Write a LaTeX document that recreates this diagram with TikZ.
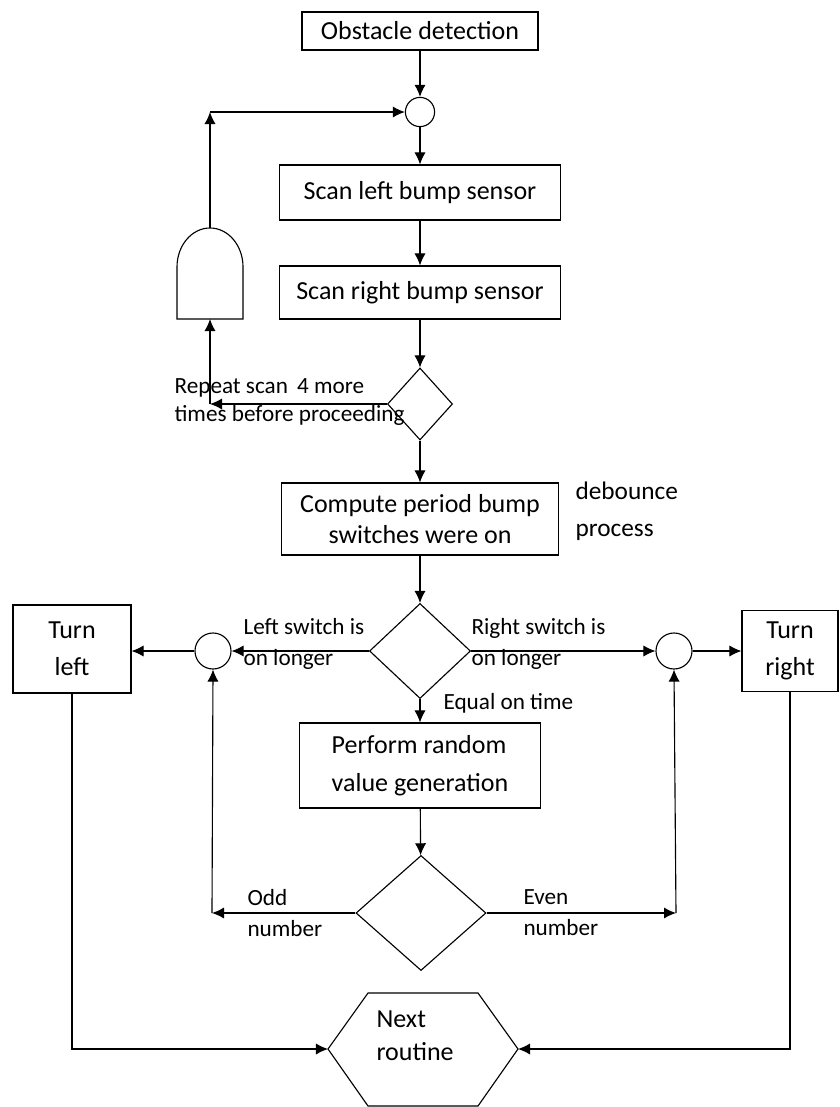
\documentclass[tikz,border=0pt]{standalone}
\usepackage{fontspec}
\setmainfont{Carlito}
\usetikzlibrary{arrows.meta,shapes.geometric,positioning}

\begin{document}
\begin{tikzpicture}[x=0.025cm,y=-0.025cm,line width=0.8pt,
        >={Latex[length=3mm,width=2.8mm]},
        box/.style={draw,inner sep=0pt,align=center,font=\fontsize{18.5}{22}\selectfont},
        junc/.style={draw,circle,minimum size=0.9cm,inner sep=0pt},
        decide/.style={draw,diamond,inner sep=0pt},
        lbl/.style={anchor=west,inner sep=0pt,align=left,font=\fontsize{16.5}{22}\selectfont}]
        \useasboundingbox (0,0) rectangle (840,1107);
        
        %方塊
        \node [box,minimum width=5.9cm,minimum height=0.95cm] (obst) at (420,31) {Obstacle detection};
        \node [junc,minimum size=0.73cm] (junctop) at (420,112) {};
        \node [box,minimum width=7.025cm,minimum height=1.375cm] (scanl) at (420,192.5) {Scan left bump sensor};
        \node [box,minimum width=7.025cm,minimum height=1.325cm] (scanr) at (420,292.5) {Scan right bump sensor};
        \node [decide,minimum width=1.625cm,minimum height=1.8cm] (chk) at (420,404) {};
        \node [box,minimum width=6.925cm,minimum height=1.8cm] (compute) at (420,519) {Compute period bump\\switches were on};
        \node [decide,minimum width=2.525cm,minimum height=2.375cm] (cmp) at (420,651) {};
        \node [junc] (junl) at (213,651) {};
        \node [junc] (junr) at (674,651) {};
        \node [box,minimum width=2.95cm,minimum height=2.2cm,font=\fontsize{18.5}{26}\selectfont] (turnl) at (72,649) {Turn\\left};
        \node [box,minimum width=2.4cm,minimum height=2.025cm,font=\fontsize{18.5}{26}\selectfont] (turnr) at (790,651) {Turn\\right};
        \node [box,minimum width=6.025cm,minimum height=2.125cm,align=left,font=\fontsize{18.5}{27}\selectfont] (perform) at (420,765.5) {Perform random\\value generation};
        \node [decide,minimum width=3.25cm,minimum height=2.875cm] (par) at (421,913) {};
        
        %AND 閘與六角形
        \draw (177,319) -- (177,267) arc [start angle=180,end angle=0,x radius=0.825cm,y radius=0.975cm] -- (243,319) -- cycle;
        \coordinate (gtop) at (210,228);
        \coordinate (gbot) at (210,319);
        \draw (328,1049) -- (368,993) -- (478,993) -- (518,1049) -- (478,1106) -- (368,1106) -- cycle;
        \coordinate (hexw) at (328,1049);
        \coordinate (hexe) at (518,1049);
        \node [lbl,font=\fontsize{18.5}{23.5}\selectfont] (next) at (376,1036) {Next\\routine};
        
        %文字
        \node [lbl,font=\fontsize{16.5}{20}\selectfont] (repeat) at (174,402) {Repeat scan\ \,4 more\\times before proceeding};
        \node [lbl,font=\fontsize{18}{26}\selectfont] (debounce) at (575,511) {debounce\\process};
        \node [lbl] (leftlong) at (243,644) {Left switch is\\on longer};
        \node [lbl] (rightlong) at (471,644) {Right switch is\\on longer};
        \node [lbl] (equal) at (443,703) {Equal on time};
        \node [lbl] (odd) at (247,913) {Odd\\number};
        \node [lbl] (even) at (523,913) {Even\\number};
        
        %箭頭
        \coordinate (loopc) at (210,112);
        \coordinate (rptc) at (210,404);
        \coordinate (oddc) at (212,913);
        \coordinate (evenc) at (676,913);
        \draw [->] (obst) -- (junctop);
        \draw [->] (junctop) -- (scanl);
        \draw [->] (scanl) -- (scanr);
        \draw [->] (scanr) -- (chk);
        \draw [->] (chk.west) -- (rptc);
        \draw [->] (rptc) -- (gbot);
        \draw [->] (gtop) -- (loopc);
        \draw [->] (loopc) -- (junctop.west);
        \draw [->] (chk) -- (compute);
        \draw [->] (compute) -- (cmp);
        \draw [->] (cmp.west) -- (junl.east);
        \draw [->] (junl.west) -- (junl.west -| turnl.east);
        \draw [->] (cmp.east) -- (junr.west);
        \draw [->] (junr.east) -- (junr.east -| turnr.west);
        \draw [->] (cmp) -- (perform);
        \draw [->] (perform) -- (par);
        \draw [->] (par.west) -- (oddc);
        \draw [->] (oddc) -- (junl.south);
        \draw [->] (par.east) -- (evenc);
        \draw [->] (evenc) -- (junr.south);
        \draw [->] (turnl.south) |- (hexw);
        \draw [->] (turnr.south) |- (hexe);
\end{tikzpicture}
\end{document}
